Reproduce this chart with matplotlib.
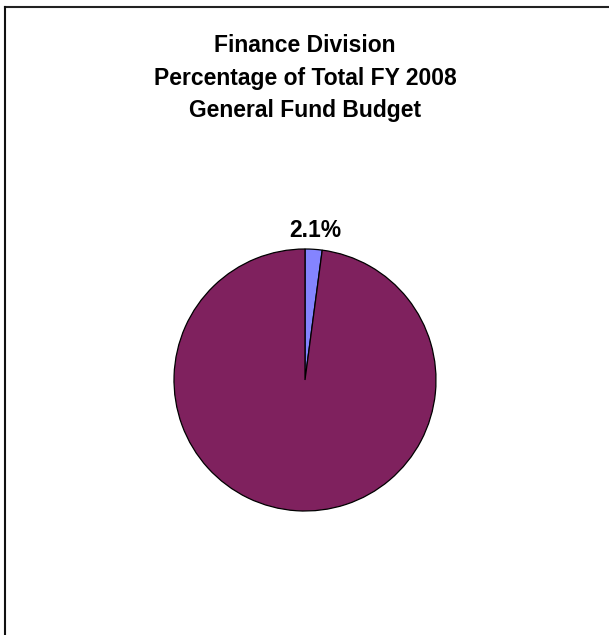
import matplotlib
matplotlib.use("Agg")
import matplotlib.pyplot as plt
from matplotlib.lines import Line2D

plt.rcParams['font.family'] = ['Liberation Sans', 'DejaVu Sans']

# Budget share data
categories = ["Finance Division", "All Other General Fund"]
shares = [2.1, 97.9]
colors = ["#8484FF", "#7F215E"]
title_lines = ["Finance Division", "Percentage of Total FY 2008", "General Fund Budget"]

W, H = 609, 635
fig = plt.figure(figsize=(W / 100, H / 100), dpi=100)
ax = fig.add_axes([0, 0, 1, 1])
ax.set_xlim(0, W)
ax.set_ylim(0, H)
ax.set_aspect('equal')
ax.axis('off')

wedges, texts, autotexts = ax.pie(
    shares,
    colors=colors,
    startangle=90,
    counterclock=False,
    center=(305, H - 380),
    radius=131,
    frame=True,
    autopct='%.1f%%',
    pctdistance=1.14,
    wedgeprops=dict(edgecolor='black', linewidth=0.9),
)
ax.set_xlim(0, W)
ax.set_ylim(0, H)
ax.axis('off')

autotexts[0].set_fontsize(16.5)
autotexts[0].set_fontweight('bold')
autotexts[0].set_color('black')
autotexts[1].set_visible(False)

fig.text(305 / W, 1 - 78 / H, "\n".join(title_lines), ha='center', va='center',
         fontsize=16.5, fontweight='bold', linespacing=1.5)

# Frame edges along top and left
fig.add_artist(Line2D([5 / W, 1], [1 - 6.5 / H, 1 - 6.5 / H], color='#222222', lw=1.5))
fig.add_artist(Line2D([5 / W, 5 / W], [0, 1 - 6.5 / H], color='#111111', lw=1.5))

fig.savefig("out.png", dpi=100)
